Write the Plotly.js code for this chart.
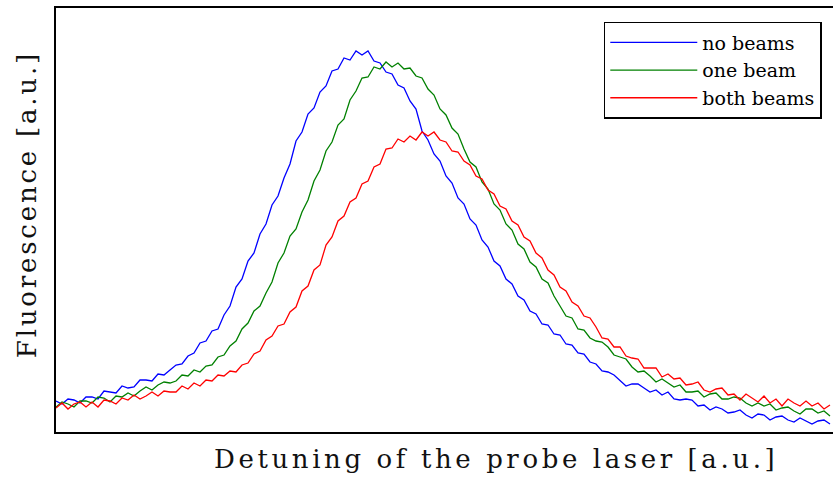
<!DOCTYPE html>
<html>
<head>
<meta charset="utf-8">
<script src="https://cdn.plot.ly/plotly-3.0.1.min.js"></script>
<style>html,body{margin:0;padding:0;background:#fff;}#chart{width:833px;height:477px;}</style>
</head>
<body>
<div id="chart"></div>
<script>
// Detuning of the probe laser [a.u.]
const detuning = [0,6,12,18,24,30,36,42,48,54,60,66,72,78,84,90,96,102,108,114,120,126,132,138,144,150,156,162,168,174,180,186,192,198,204,210,216,222,228,234,240,246,252,258,264,270,276,282,288,294,300,306,312,318,324,330,336,342,348,354,360,366,372,378,384,390,396,402,408,414,420,426,432,438,444,450,456,462,468,474,480,486,492,498,504,510,516,522,528,534,540,546,552,558,564,570,576,582,588,594,600,606,612,618,624,630,636,642,648,654,660,666,672,678,684,690,696,702,708,714,720,726,732,738,744,750,756,762,768,774];

// Fluorescence [a.u.]
const noBeams = [31,28,33,32,29,35,35,33,41,40,39,46,44,45,52,52,51,58,57,62,67,68,76,79,89,91,101,103,117,126,145,153,171,179,198,208,227,236,254,268,291,300,318,324,340,346,361,363,374,372,381,377,381,371,369,360,358,347,344,331,323,301,292,278,271,256,249,234,228,213,207,192,185,171,166,153,148,136,132,121,118,108,107,98,97,88,87,79,78,70,68,61,60,57,51,46,48,48,44,40,42,37,40,33,32,33,32,26,27,22,25,23,19,20,22,17,14,18,17,12,15,16,12,10,14,11,8,11,12,8];

const oneBeam = [25,30,28,25,31,31,29,35,34,30,36,35,39,36,41,45,42,47,50,49,51,57,56,62,60,66,67,75,77,86,91,103,109,121,126,139,150,169,179,196,203,220,232,251,262,281,290,307,313,332,341,354,355,365,363,370,365,369,363,364,356,354,343,337,323,317,304,298,283,270,265,250,243,228,222,208,202,188,183,170,165,153,149,136,126,116,114,103,102,94,91,90,85,77,75,73,65,60,61,56,50,53,49,45,47,40,40,41,35,38,39,33,33,35,34,29,26,29,26,28,22,24,25,21,18,23,23,19,21,16];

const bothBeams = [24,29,23,28,30,25,30,25,32,31,28,34,32,37,33,36,40,36,41,40,40,46,43,49,46,52,51,57,56,61,60,67,69,78,81,92,96,106,108,120,125,141,146,162,167,187,195,211,216,230,234,248,251,265,268,283,284,293,290,296,292,300,296,300,292,290,281,280,271,267,256,253,242,238,226,223,211,207,195,191,179,174,162,157,145,141,130,126,116,114,105,94,93,85,85,76,74,73,64,64,64,55,58,53,54,47,48,50,42,40,43,44,37,38,32,38,34,30,36,29,33,26,33,29,26,31,26,29,23,27];

const seriesNames = ["no beams", "one beam", "both beams"];
const seriesColors = ["#0000ff", "#008000", "#ff0000"];
const seriesValues = [noBeams, oneBeam, bothBeams];

const xTitle = "Detuning of the probe laser [a.u.]";
const yTitle = "Fluorescence [a.u.]";

const traces = seriesValues.map((vals, i) => ({
  type: "scatter",
  mode: "lines",
  x: detuning,
  y: vals,
  name: seriesNames[i],
  line: { color: seriesColors[i], width: 1.3 }
}));

const serif = "'DejaVu Serif', 'Liberation Serif', serif";

const layout = {
  width: 833,
  height: 477,
  margin: { l: 56, r: 0, t: 8, b: 45 },
  paper_bgcolor: "#ffffff",
  plot_bgcolor: "#ffffff",
  showlegend: true,
  legend: {
    x: 0.705, y: 0.967, xanchor: "left", yanchor: "top",
    bgcolor: "#ffffff",
    bordercolor: "#000000",
    borderwidth: 1.5,
    font: { family: serif, size: 19, color: "#000" },
    itemwidth: 87,
    tracegroupgap: 0
  },
  xaxis: {
    range: [0, 777],
    showgrid: false, zeroline: false,
    showticklabels: false, ticks: "",
    showline: true, linecolor: "#000", linewidth: 2, mirror: true,
    fixedrange: true
  },
  yaxis: {
    range: [0, 424],
    showgrid: false, zeroline: false,
    showticklabels: false, ticks: "",
    showline: true, linecolor: "#000", linewidth: 2, mirror: true,
    fixedrange: true
  },
  annotations: [
    {
      text: '<span style="letter-spacing:3.6px">' + xTitle + '</span>',
      xref: "paper", yref: "paper",
      x: 0.566, y: 0, yshift: -27,
      xanchor: "center", yanchor: "middle",
      showarrow: false,
      font: { family: serif, size: 26, color: "#111" }
    },
    {
      text: '<span style="letter-spacing:2.8px">' + yTitle + '</span>',
      xref: "paper", yref: "paper",
      x: 0, xshift: -29, y: 0.535,
      xanchor: "center", yanchor: "middle",
      textangle: -90,
      showarrow: false,
      font: { family: serif, size: 26, color: "#111" }
    }
  ]
};

Plotly.newPlot("chart", traces, layout, { displayModeBar: false, staticPlot: true });
</script>
</body>
</html>
